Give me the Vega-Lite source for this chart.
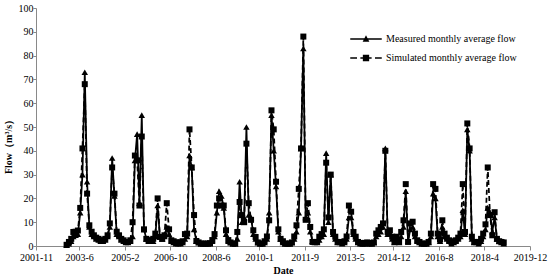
{
  "$schema": "https://vega.github.io/schema/vega-lite/v6.json",
  "width": 494,
  "height": 238,
  "autosize": {"type": "none"},
  "padding": {"left": 36, "top": 8, "right": 20, "bottom": 32},
  "background": "white",
  "config": {
    "view": {"stroke": null},
    "font": "Liberation Serif",
    "axis": {"grid": false, "domainColor": "#898989", "tickColor": "#898989", "labelColor": "black", "titleColor": "black", "labelFont": "Liberation Serif", "titleFont": "Liberation Serif", "labelFontSize": 10, "titleFontSize": 10, "titleFontWeight": "bold", "labelFlush": false, "labelOverlap": false}
  },
  "data": {"values": [
    {"date": "2002-12-15", "measured": 0.3, "simulated": 0.5},
    {"date": "2003-01-15", "measured": 1.0, "simulated": 1.7},
    {"date": "2003-02-15", "measured": 2.0, "simulated": 3.0},
    {"date": "2003-03-15", "measured": 4.0, "simulated": 5.9},
    {"date": "2003-04-15", "measured": 4.5, "simulated": 6.0},
    {"date": "2003-05-15", "measured": 5.0, "simulated": 6.5},
    {"date": "2003-06-15", "measured": 14, "simulated": 16},
    {"date": "2003-07-15", "measured": 30, "simulated": 41},
    {"date": "2003-08-15", "measured": 73, "simulated": 68},
    {"date": "2003-09-15", "measured": 27, "simulated": 22},
    {"date": "2003-10-15", "measured": 8, "simulated": 8.7},
    {"date": "2003-11-15", "measured": 5, "simulated": 6},
    {"date": "2003-12-15", "measured": 4, "simulated": 4.5},
    {"date": "2004-01-15", "measured": 3, "simulated": 3.5},
    {"date": "2004-02-15", "measured": 2.5, "simulated": 3},
    {"date": "2004-03-15", "measured": 2, "simulated": 2.4},
    {"date": "2004-04-15", "measured": 2, "simulated": 2.4},
    {"date": "2004-05-15", "measured": 2.5, "simulated": 3},
    {"date": "2004-06-15", "measured": 4, "simulated": 4.5},
    {"date": "2004-07-15", "measured": 8, "simulated": 9.5},
    {"date": "2004-08-15", "measured": 37, "simulated": 33},
    {"date": "2004-09-15", "measured": 21, "simulated": 22},
    {"date": "2004-10-15", "measured": 5, "simulated": 6},
    {"date": "2004-11-15", "measured": 4, "simulated": 4.5},
    {"date": "2004-12-15", "measured": 2.5, "simulated": 3},
    {"date": "2005-01-15", "measured": 2, "simulated": 2.4},
    {"date": "2005-02-15", "measured": 1.5, "simulated": 1.7},
    {"date": "2005-03-15", "measured": 1.5, "simulated": 1.7},
    {"date": "2005-04-15", "measured": 2, "simulated": 2.4},
    {"date": "2005-05-15", "measured": 4, "simulated": 10},
    {"date": "2005-06-15", "measured": 36, "simulated": 38},
    {"date": "2005-07-15", "measured": 47, "simulated": 36},
    {"date": "2005-08-15", "measured": 18, "simulated": 17},
    {"date": "2005-09-15", "measured": 55, "simulated": 46},
    {"date": "2005-10-15", "measured": 7, "simulated": 7},
    {"date": "2005-11-15", "measured": 3, "simulated": 3},
    {"date": "2005-12-15", "measured": 2, "simulated": 2.4},
    {"date": "2006-01-15", "measured": 2, "simulated": 2.4},
    {"date": "2006-02-15", "measured": 2, "simulated": 3},
    {"date": "2006-03-15", "measured": 4, "simulated": 5.2},
    {"date": "2006-04-15", "measured": 17, "simulated": 20},
    {"date": "2006-05-15", "measured": 4, "simulated": 3.8},
    {"date": "2006-06-15", "measured": 3, "simulated": 3},
    {"date": "2006-07-15", "measured": 4, "simulated": 4.5},
    {"date": "2006-08-15", "measured": 8, "simulated": 18},
    {"date": "2006-09-15", "measured": 5, "simulated": 7},
    {"date": "2006-10-15", "measured": 2, "simulated": 2.4},
    {"date": "2006-11-15", "measured": 1.5, "simulated": 2},
    {"date": "2006-12-15", "measured": 1, "simulated": 1.5},
    {"date": "2007-01-15", "measured": 1, "simulated": 1.5},
    {"date": "2007-02-15", "measured": 1, "simulated": 1.5},
    {"date": "2007-03-15", "measured": 1.5, "simulated": 2},
    {"date": "2007-04-15", "measured": 3, "simulated": 5},
    {"date": "2007-05-15", "measured": 4, "simulated": 5.2},
    {"date": "2007-06-15", "measured": 38, "simulated": 49},
    {"date": "2007-07-15", "measured": 33, "simulated": 33},
    {"date": "2007-08-15", "measured": 7, "simulated": 13},
    {"date": "2007-09-15", "measured": 2, "simulated": 2.1},
    {"date": "2007-10-15", "measured": 1.5, "simulated": 1.5},
    {"date": "2007-11-15", "measured": 1, "simulated": 1},
    {"date": "2007-12-15", "measured": 1, "simulated": 1},
    {"date": "2008-01-15", "measured": 1, "simulated": 1},
    {"date": "2008-02-15", "measured": 1, "simulated": 1},
    {"date": "2008-03-15", "measured": 1, "simulated": 1.2},
    {"date": "2008-04-15", "measured": 2, "simulated": 2.5},
    {"date": "2008-05-15", "measured": 4, "simulated": 5},
    {"date": "2008-06-15", "measured": 14, "simulated": 17},
    {"date": "2008-07-15", "measured": 23, "simulated": 20},
    {"date": "2008-08-15", "measured": 21, "simulated": 17},
    {"date": "2008-09-15", "measured": 16, "simulated": 17},
    {"date": "2008-10-15", "measured": 5, "simulated": 6.6},
    {"date": "2008-11-15", "measured": 2, "simulated": 2.5},
    {"date": "2008-12-15", "measured": 1.5, "simulated": 1.5},
    {"date": "2009-01-15", "measured": 1, "simulated": 1},
    {"date": "2009-02-15", "measured": 1, "simulated": 1},
    {"date": "2009-03-15", "measured": 3, "simulated": 5.9},
    {"date": "2009-04-15", "measured": 27, "simulated": 18.5},
    {"date": "2009-05-15", "measured": 10, "simulated": 13},
    {"date": "2009-06-15", "measured": 12, "simulated": 10},
    {"date": "2009-07-15", "measured": 50, "simulated": 43},
    {"date": "2009-08-15", "measured": 13, "simulated": 18},
    {"date": "2009-09-15", "measured": 12, "simulated": 11},
    {"date": "2009-10-15", "measured": 5, "simulated": 6.6},
    {"date": "2009-11-15", "measured": 3, "simulated": 3.8},
    {"date": "2009-12-15", "measured": 1.5, "simulated": 1.5},
    {"date": "2010-01-15", "measured": 1, "simulated": 1},
    {"date": "2010-02-15", "measured": 1, "simulated": 1},
    {"date": "2010-03-15", "measured": 1.5, "simulated": 2},
    {"date": "2010-04-15", "measured": 3, "simulated": 4},
    {"date": "2010-05-15", "measured": 14, "simulated": 10.8},
    {"date": "2010-06-15", "measured": 55, "simulated": 57},
    {"date": "2010-07-15", "measured": 40, "simulated": 49},
    {"date": "2010-08-15", "measured": 25, "simulated": 27},
    {"date": "2010-09-15", "measured": 6, "simulated": 7},
    {"date": "2010-10-15", "measured": 3, "simulated": 3},
    {"date": "2010-11-15", "measured": 1.5, "simulated": 2},
    {"date": "2010-12-15", "measured": 1, "simulated": 1},
    {"date": "2011-01-15", "measured": 1, "simulated": 1},
    {"date": "2011-02-15", "measured": 1, "simulated": 1},
    {"date": "2011-03-15", "measured": 1.5, "simulated": 1.5},
    {"date": "2011-04-15", "measured": 3, "simulated": 4},
    {"date": "2011-05-15", "measured": 6, "simulated": 8.7},
    {"date": "2011-06-15", "measured": 14, "simulated": 24},
    {"date": "2011-07-15", "measured": 41, "simulated": 41},
    {"date": "2011-08-15", "measured": 83, "simulated": 88},
    {"date": "2011-09-15", "measured": 12, "simulated": 11},
    {"date": "2011-10-15", "measured": 14, "simulated": 18},
    {"date": "2011-11-15", "measured": 6, "simulated": 8},
    {"date": "2011-12-15", "measured": 2, "simulated": 1.7},
    {"date": "2012-01-15", "measured": 1.5, "simulated": 1.7},
    {"date": "2012-02-15", "measured": 1.5, "simulated": 1.7},
    {"date": "2012-03-15", "measured": 2.5, "simulated": 3.9},
    {"date": "2012-04-15", "measured": 4, "simulated": 5},
    {"date": "2012-05-15", "measured": 5, "simulated": 7},
    {"date": "2012-06-15", "measured": 39, "simulated": 35},
    {"date": "2012-07-15", "measured": 10, "simulated": 12},
    {"date": "2012-08-15", "measured": 30, "simulated": 30},
    {"date": "2012-09-15", "measured": 5, "simulated": 5.9},
    {"date": "2012-10-15", "measured": 3, "simulated": 3.9},
    {"date": "2012-11-15", "measured": 1.5, "simulated": 1.7},
    {"date": "2012-12-15", "measured": 1.5, "simulated": 1.7},
    {"date": "2013-01-15", "measured": 1, "simulated": 1.5},
    {"date": "2013-02-15", "measured": 1.5, "simulated": 2},
    {"date": "2013-03-15", "measured": 3, "simulated": 4},
    {"date": "2013-04-15", "measured": 12, "simulated": 17},
    {"date": "2013-05-15", "measured": 12, "simulated": 14.4},
    {"date": "2013-06-15", "measured": 5, "simulated": 5.9},
    {"date": "2013-07-15", "measured": 3, "simulated": 3.9},
    {"date": "2013-08-15", "measured": 1.5, "simulated": 1.7},
    {"date": "2013-09-15", "measured": 1, "simulated": 1.3},
    {"date": "2013-10-15", "measured": 1, "simulated": 1},
    {"date": "2013-11-15", "measured": 1, "simulated": 1.3},
    {"date": "2013-12-15", "measured": 1, "simulated": 1.5},
    {"date": "2014-01-15", "measured": 1, "simulated": 1.3},
    {"date": "2014-02-15", "measured": 1, "simulated": 1},
    {"date": "2014-03-15", "measured": 1.5, "simulated": 1.5},
    {"date": "2014-04-15", "measured": 4, "simulated": 5.2},
    {"date": "2014-05-15", "measured": 5, "simulated": 6.6},
    {"date": "2014-06-15", "measured": 6, "simulated": 8},
    {"date": "2014-07-15", "measured": 8, "simulated": 9.5},
    {"date": "2014-08-15", "measured": 41, "simulated": 40},
    {"date": "2014-09-15", "measured": 5, "simulated": 5.9},
    {"date": "2014-10-15", "measured": 5, "simulated": 6.6},
    {"date": "2014-11-15", "measured": 3, "simulated": 3.9},
    {"date": "2014-12-15", "measured": 1.5, "simulated": 1.7},
    {"date": "2015-01-15", "measured": 2, "simulated": 3.9},
    {"date": "2015-02-15", "measured": 1.5, "simulated": 1.7},
    {"date": "2015-03-15", "measured": 4, "simulated": 5.9},
    {"date": "2015-04-15", "measured": 8, "simulated": 10.8},
    {"date": "2015-05-15", "measured": 23, "simulated": 26},
    {"date": "2015-06-15", "measured": 2, "simulated": 1.7},
    {"date": "2015-07-15", "measured": 7, "simulated": 9.5},
    {"date": "2015-08-15", "measured": 8, "simulated": 10.2},
    {"date": "2015-09-15", "measured": 4, "simulated": 5.2},
    {"date": "2015-10-15", "measured": 2, "simulated": 2.4},
    {"date": "2015-11-15", "measured": 1.5, "simulated": 1.7},
    {"date": "2015-12-15", "measured": 1, "simulated": 1},
    {"date": "2016-01-15", "measured": 1, "simulated": 1},
    {"date": "2016-02-15", "measured": 1, "simulated": 1},
    {"date": "2016-03-15", "measured": 1.5, "simulated": 1.7},
    {"date": "2016-04-15", "measured": 4, "simulated": 5.2},
    {"date": "2016-05-15", "measured": 22, "simulated": 26},
    {"date": "2016-06-15", "measured": 20, "simulated": 24},
    {"date": "2016-07-15", "measured": 4, "simulated": 5.2},
    {"date": "2016-08-15", "measured": 2, "simulated": 2.7},
    {"date": "2016-09-15", "measured": 8, "simulated": 10.8},
    {"date": "2016-10-15", "measured": 4, "simulated": 5.2},
    {"date": "2016-11-15", "measured": 3, "simulated": 3.5},
    {"date": "2016-12-15", "measured": 2, "simulated": 2.4},
    {"date": "2017-01-15", "measured": 1, "simulated": 1.7},
    {"date": "2017-02-15", "measured": 1.5, "simulated": 2},
    {"date": "2017-03-15", "measured": 2, "simulated": 2.4},
    {"date": "2017-04-15", "measured": 3, "simulated": 3.5},
    {"date": "2017-05-15", "measured": 4, "simulated": 5.2},
    {"date": "2017-06-15", "measured": 15, "simulated": 26},
    {"date": "2017-07-15", "measured": 5, "simulated": 5.9},
    {"date": "2017-08-15", "measured": 49, "simulated": 51.5},
    {"date": "2017-09-15", "measured": 40, "simulated": 41},
    {"date": "2017-10-15", "measured": 3, "simulated": 3.9},
    {"date": "2017-11-15", "measured": 1.5, "simulated": 1.7},
    {"date": "2017-12-15", "measured": 1.5, "simulated": 1.7},
    {"date": "2018-01-15", "measured": 1, "simulated": 1.7},
    {"date": "2018-02-15", "measured": 2, "simulated": 3},
    {"date": "2018-03-15", "measured": 4, "simulated": 5.2},
    {"date": "2018-04-15", "measured": 7, "simulated": 9.1},
    {"date": "2018-05-15", "measured": 16, "simulated": 33},
    {"date": "2018-06-15", "measured": 14, "simulated": 13},
    {"date": "2018-07-15", "measured": 6, "simulated": 4.5},
    {"date": "2018-08-15", "measured": 12, "simulated": 14.2},
    {"date": "2018-09-15", "measured": 3, "simulated": 3},
    {"date": "2018-10-15", "measured": 2, "simulated": 2},
    {"date": "2018-11-15", "measured": 1.5, "simulated": 1.7},
    {"date": "2018-12-15", "measured": 1, "simulated": 1.5}
  ]},
  "transform": [{"fold": ["measured", "simulated"], "as": ["series", "flow"]}],
  "encoding": {
    "x": {
      "field": "date",
      "type": "temporal",
      "scale": {
        "type": "utc",
        "domain": [{"year": 2001, "month": 11, "date": 1, "utc": true}, {"year": 2019, "month": 12, "date": 1, "utc": true}]
      },
      "axis": {
        "title": "Date",
        "values": [
          {"year": 2001, "month": 11, "date": 1, "utc": true},
          {"year": 2003, "month": 6, "date": 1, "utc": true},
          {"year": 2005, "month": 2, "date": 1, "utc": true},
          {"year": 2006, "month": 10, "date": 1, "utc": true},
          {"year": 2008, "month": 6, "date": 1, "utc": true},
          {"year": 2010, "month": 1, "date": 1, "utc": true},
          {"year": 2011, "month": 9, "date": 1, "utc": true},
          {"year": 2013, "month": 5, "date": 1, "utc": true},
          {"year": 2014, "month": 12, "date": 1, "utc": true},
          {"year": 2016, "month": 8, "date": 1, "utc": true},
          {"year": 2018, "month": 4, "date": 1, "utc": true},
          {"year": 2019, "month": 12, "date": 1, "utc": true}
        ],
        "labelExpr": "utcFormat(datum.value, '%Y-%-m')",
        "tickSize": 4,
        "labelPadding": 2,
        "titlePadding": 3,
        "labelAngle": 0
      }
    },
    "y": {
      "field": "flow",
      "type": "quantitative",
      "scale": {"domain": [0, 100], "nice": false},
      "axis": {
        "title": "Flow（m³/s）",
        "values": [0, 10, 20, 30, 40, 50, 60, 70, 80, 90, 100],
        "tickSize": 3,
        "labelPadding": 0,
        "titleX": -28,
        "titleY": 136,
        "titleAngle": 270,
        "titleAlign": "center",
        "titleBaseline": "middle"
      }
    }
  },
  "layer": [
    {
      "transform": [{"filter": "datum.series == 'measured'"}],
      "mark": {"type": "line", "color": "black", "strokeWidth": 1.75}
    },
    {
      "transform": [{"filter": "datum.series == 'measured'"}],
      "mark": {"type": "point", "shape": "triangle-up", "filled": true, "color": "black", "size": 42, "opacity": 1}
    },
    {
      "transform": [{"filter": "datum.series == 'simulated'"}],
      "mark": {"type": "line", "color": "black", "strokeWidth": 1.75, "strokeDash": [5, 3]}
    },
    {
      "transform": [{"filter": "datum.series == 'simulated'"}],
      "mark": {"type": "point", "shape": "square", "filled": true, "color": "black", "size": 36, "opacity": 1}
    },
    {
      "mark": {"type": "point", "filled": true, "color": "black", "opacity": 0},
      "encoding": {
        "shape": {
          "field": "series",
          "type": "nominal",
          "scale": {
            "domain": ["measured", "simulated"],
            "range": [
              "M-2.1,-0.11H2.1V0.11H-2.1ZM0,-0.5L0.45,0.35L-0.45,0.35Z",
              "M-2.1,-0.11H-1.2V0.11H-2.1ZM-0.75,-0.11H0.75V0.11H-0.75ZM1.2,-0.11H2.1V0.11H1.2ZM-0.42,-0.42H0.42V0.42H-0.42Z"
            ]
          },
          "legend": {
            "title": null,
            "orient": "none",
            "legendX": 322.5,
            "legendY": 23.5,
            "padding": 0,
            "symbolSize": 225,
            "symbolFillColor": "black",
            "symbolStrokeColor": "black",
            "symbolStrokeWidth": 0,
            "symbolOpacity": 1,
            "labelOffset": 12.5,
            "rowPadding": 6,
            "labelFont": "Liberation Serif",
            "labelFontSize": 10,
            "labelColor": "black",
            "labelExpr": "datum.label == 'measured' ? 'Measured monthly average flow' : 'Simulated monthly average flow'"
          }
        }
      }
    }
  ]
}
